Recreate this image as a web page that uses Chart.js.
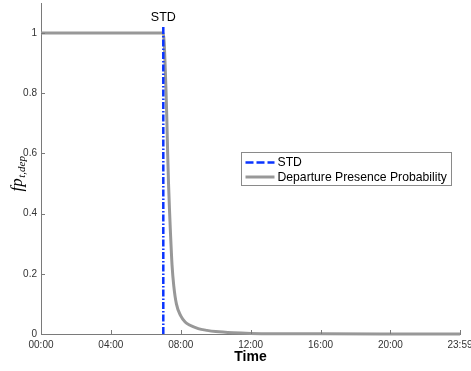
<!DOCTYPE html>
<html>
<head>
<meta charset="utf-8">
<script src="https://cdn.jsdelivr.net/npm/chart.js@4.4.1/dist/chart.umd.min.js"></script>
<style>
  html, body { margin: 0; padding: 0; background: #fff; }
  #wrap { width: 471px; height: 371px; position: relative; }
</style>
</head>
<body>
<div id="wrap"><canvas id="c" width="471" height="371"></canvas></div>
<script>
// Time of day in minutes after midnight
const timeMinutes = [0, 420, 423, 426, 429, 432, 435, 438, 441, 444, 450, 456, 465, 480, 495, 510, 540, 570, 600, 660, 720, 840, 960, 1200, 1439];
// Departure presence probability at each time
const presenceProb = [1, 1, 0.97, 0.9, 0.82, 0.72, 0.6, 0.5, 0.42, 0.35, 0.23, 0.16, 0.1, 0.06, 0.04, 0.03, 0.018, 0.012, 0.008, 0.004, 0.002, 0.001, 0.0005, 0.0002, 0.0001];
// Scheduled time of departure (minutes) and the height of its marker line
const stdMinute = 420;
const stdLine = [0, 1.02];
// Axis ticks
const xTickValues = [0, 240, 480, 720, 960, 1200, 1439];
const yTickValues = [0, 0.2, 0.4, 0.6, 0.8, 1];

const seriesNames = ['STD', 'Departure Presence Probability'];
const blue = '#0a34ff';
const grey = '#989898';
const dashDot = [7, 2, 1.5, 2];

function fmtTime(m) {
  const h = Math.floor(m / 60), mm = Math.round(m % 60);
  return String(h).padStart(2, '0') + ':' + String(mm).padStart(2, '0');
}

const decor = {
  id: 'decor',
  afterDraw(chart) {
    const ctx = chart.ctx;
    const xs = chart.scales.x, ys = chart.scales.y;
    const area = chart.chartArea;
    ctx.save();
    // inward tick marks
    ctx.strokeStyle = '#7a7a7a';
    ctx.lineWidth = 1;
    ctx.beginPath();
    xTickValues.forEach(v => {
      const px = Math.round(xs.getPixelForValue(v)) + 0.5;
      ctx.moveTo(px, area.bottom);
      ctx.lineTo(px, area.bottom - 4);
    });
    yTickValues.forEach(v => {
      const py = Math.round(ys.getPixelForValue(v)) + 0.5;
      ctx.moveTo(area.left, py);
      ctx.lineTo(area.left + 4, py);
    });
    ctx.stroke();

    // STD annotation above the marker line
    ctx.fillStyle = '#000';
    ctx.font = '12.5px "Liberation Sans", Arial, sans-serif';
    ctx.textAlign = 'center';
    ctx.textBaseline = 'alphabetic';
    ctx.fillText('STD', xs.getPixelForValue(stdMinute), 21);

    // y-axis title: fp_{t,dep}
    ctx.translate(18, 174);
    ctx.rotate(-Math.PI / 2);
    const bigFont = 'italic 17px "Liberation Serif", "DejaVu Serif", serif';
    const subFont = 'italic 11px "Liberation Serif", "DejaVu Serif", serif';
    ctx.font = bigFont;
    const w1 = ctx.measureText('fp').width;
    ctx.font = subFont;
    const w2 = ctx.measureText('t,dep').width;
    const start = -(w1 + w2) / 2;
    ctx.textAlign = 'left';
    ctx.font = bigFont;
    ctx.fillText('fp', start, 4);
    ctx.font = subFont;
    ctx.fillText('t,dep', start + w1 + 0.5, 7);
    ctx.setTransform(1, 0, 0, 1, 0, 0);

    // legend box
    const lx = 241.5, ly = 152.5, lw = 210, lh = 33;
    ctx.fillStyle = '#fff';
    ctx.fillRect(lx, ly, lw, lh);
    ctx.strokeStyle = '#8a8a8a';
    ctx.lineWidth = 1;
    ctx.strokeRect(lx, ly, lw, lh);
    const rows = [
      { y: ly + 10, color: blue, width: 2.5, dash: [8, 3] },
      { y: ly + 24.5, color: grey, width: 3, dash: [] }
    ];
    rows.forEach((r, i) => {
      ctx.beginPath();
      ctx.setLineDash(r.dash);
      ctx.strokeStyle = r.color;
      ctx.lineWidth = r.width;
      ctx.moveTo(lx + 4, r.y);
      ctx.lineTo(lx + 33, r.y);
      ctx.stroke();
      ctx.setLineDash([]);
      ctx.fillStyle = '#000';
      ctx.font = '12.2px "Liberation Sans", Arial, sans-serif';
      ctx.textAlign = 'left';
      ctx.textBaseline = 'middle';
      ctx.fillText(seriesNames[i], lx + 36, r.y + 0.5);
    });
    ctx.restore();
  }
};

new Chart(document.getElementById('c'), {
  type: 'scatter',
  data: {
    datasets: [
      {
        label: seriesNames[1],
        data: timeMinutes.map((t, i) => ({ x: t, y: presenceProb[i] })),
        showLine: true,
        borderColor: grey,
        borderWidth: 3,
        pointRadius: 0,
        cubicInterpolationMode: 'monotone',
        order: 2
      },
      {
        label: seriesNames[0],
        data: stdLine.map(v => ({ x: stdMinute, y: v })),
        showLine: true,
        borderColor: blue,
        borderWidth: 2.5,
        borderDash: dashDot,
        pointRadius: 0,
        order: 1
      }
    ]
  },
  options: {
    responsive: false,
    animation: false,
    clip: false,
    layout: { padding: { top: 3, right: 11, left: 0, bottom: 0 } },
    plugins: { legend: { display: false }, tooltip: { enabled: false } },
    scales: {
      x: {
        type: 'linear',
        min: 0,
        max: 1439,
        afterBuildTicks(s) { s.ticks = xTickValues.map(v => ({ value: v })); },
        afterFit(s) { s.height = 37; s.paddingLeft = 0; s.paddingRight = 0; },
        grid: { display: false, drawTicks: false },
        border: { display: true, color: '#7a7a7a', width: 1 },
        ticks: {
          callback: v => fmtTime(v),
          color: '#333',
          font: { size: 10, family: '"Liberation Sans", Arial, sans-serif' },
          padding: 5,
          maxRotation: 0,
          autoSkip: false
        },
        title: {
          display: true,
          text: 'Time',
          color: '#000',
          font: { size: 14, weight: 'bold', family: '"Liberation Sans", Arial, sans-serif' },
          padding: { top: 0, bottom: 5 }
        }
      },
      y: {
        min: 0,
        max: 1.1,
        afterBuildTicks(s) { s.ticks = yTickValues.map(v => ({ value: v })); },
        afterFit(s) { s.width = 41; s.paddingTop = 0; s.paddingBottom = 0; },
        grid: { display: false, drawTicks: false },
        border: { display: true, color: '#7a7a7a', width: 1 },
        ticks: {
          callback: v => String(Math.round(v * 10) / 10),
          color: '#333',
          font: { size: 10, family: '"Liberation Sans", Arial, sans-serif' },
          padding: 4
        }
      }
    }
  },
  plugins: [decor]
});
</script>
</body>
</html>
